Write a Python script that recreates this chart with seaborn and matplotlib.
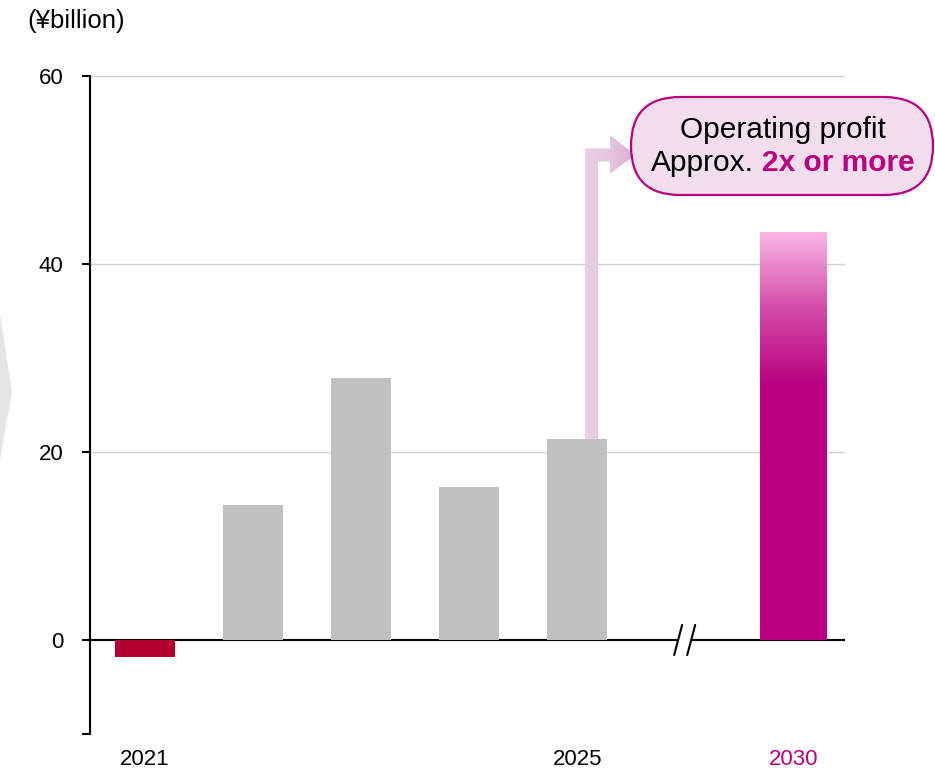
import numpy as np
import pandas as pd
import seaborn as sns
import matplotlib
matplotlib.use("Agg")
import matplotlib.pyplot as plt
from matplotlib.patches import Polygon, FancyBboxPatch
from matplotlib.colors import LinearSegmentedColormap
from matplotlib.transforms import Affine2D

# Operating profit (¥billion) by fiscal year
periods = ["FY2021", "FY2022", "FY2023", "FY2024", "FY2025"]
profits = [-1.8, 14.4, 27.9, 16.3, 21.4]
target_period = ["FY2030"]
target_profit = [43.4]
slot_order = ["FY2021", "FY2022", "FY2023", "FY2024", "FY2025", "break", "FY2030"]
tick_labels = ["2021", "", "", "", "2025", "", "2030"]
y_ticks = [-10, 0, 20, 40, 60]
y_tick_labels = ["", "0", "20", "40", "60"]

MAGENTA = "#B9007F"
PINK_TOP = "#F9B6E5"
bar_colors = {
    "FY2021": "#B4002E",
    "FY2022": "#C0C0C0",
    "FY2023": "#C0C0C0",
    "FY2024": "#C0C0C0",
    "FY2025": "#C0C0C0",
}

sns.set_style("white")
plt.rcParams["font.family"] = ["Liberation Sans", "DejaVu Sans"]

W, H = 935, 769
fig = plt.figure(figsize=(W / 100, H / 100), dpi=100)
ax = fig.add_axes([90 / W, 35 / H, 755 / W, (734 - 76) / H])

df = pd.DataFrame({"period": periods, "profit": profits})
sns.barplot(data=df, x="period", y="profit", hue="period", order=slot_order,
            palette=bar_colors, width=0.56, saturation=1, legend=False, ax=ax,
            linewidth=0, edgecolor="none", zorder=2)

# the 2030 target bar is a little wider
df_t = pd.DataFrame({"period": target_period, "profit": target_profit})
sns.barplot(data=df_t, x="period", y="profit", order=slot_order, color=MAGENTA,
            width=0.62, saturation=1, ax=ax, linewidth=0, edgecolor="none", zorder=2)

XLIM = (-0.51, 6.48)
YLIM = (-10, 60)

# gradient fill for the 2030 bar: solid magenta below ~27, fading to pink at the top
target = None
for p in ax.patches:
    if abs(p.get_x() + p.get_width() / 2 - 6) < 0.1:
        target = p
if target is not None:
    x0 = target.get_x()
    x1 = x0 + target.get_width()
    top = target.get_y() + target.get_height()
    grad_cmap = LinearSegmentedColormap.from_list("bar_grad", [MAGENTA, "#D44AA8", PINK_TOP])
    ys = np.linspace(0, top, 512)
    img = np.clip((ys - 27.0) / (top - 27.0), 0, 1).reshape(-1, 1)
    im = ax.imshow(img, extent=[x0, x1, 0, top], origin="lower", cmap=grad_cmap,
                   vmin=0, vmax=1, aspect="auto", zorder=3, interpolation="nearest")
    im.set_clip_path(target)

# gridlines and zero line
for g in [20, 40, 60]:
    ax.axhline(g, color="#D0D0D0", lw=1, zorder=0.5)
ax.axhline(0, color="black", lw=1.5, zorder=1)

# axis break marks between 2025 and 2030
ax.plot([4.935, 5.056], [0, 0], color="white", lw=4, zorder=1.2, solid_capstyle="butt")
for cx in [4.935, 5.056]:
    ax.plot([cx - 0.037, cx + 0.037], [-1.6, 1.6], color="black", lw=1.5, zorder=1.3)

# arrow from the 2025 bar up to the callout
arrow_pts = [(4.074, 21.4), (4.194, 21.4), (4.194, 50.9), (4.306, 50.9), (4.306, 49.6),
             (4.537, 51.6), (4.306, 53.7), (4.306, 52.3), (4.074, 52.3)]
arrow = Polygon(arrow_pts, closed=True, facecolor="none", edgecolor="none")
ax.add_patch(arrow)
arrow_cmap = LinearSegmentedColormap.from_list("arrow_grad", ["#E8CFE3", "#E4C6DF", "#D9ABD0"])
aimg = np.linspace(0, 1, 256).reshape(1, -1)
aim = ax.imshow(aimg, extent=[4.074, 4.537, 21.4, 53.7], origin="lower", cmap=arrow_cmap,
                aspect="auto", zorder=4, interpolation="nearest")
aim.set_clip_path(arrow)

ax.set_xlim(*XLIM)
ax.set_ylim(*YLIM)
ax.set_xlabel("")
ax.set_ylabel("")
ax.grid(False)

for side in ["top", "right", "bottom"]:
    ax.spines[side].set_visible(False)
ax.spines["left"].set_color("black")
ax.spines["left"].set_linewidth(1.5)

ax.set_yticks(y_ticks)
ax.set_yticklabels(y_tick_labels)
ax.tick_params(axis="y", direction="out", length=6, width=1.5, color="black",
               pad=13, labelsize=16, labelcolor="black", left=True)
ax.set_xticks(range(len(slot_order)))
ax.set_xticklabels(tick_labels)
ax.tick_params(axis="x", length=0, pad=11, labelsize=16, labelcolor="black")
ax.get_xticklabels()[6].set_color(MAGENTA)

# unit label
fig.text(27 / W, 1 - 21 / H, "(¥billion)", fontsize=18.5, ha="left", va="center",
         color="black")

# light chevron at the left edge
px = Affine2D().scale(1.0 / 100) + fig.dpi_scale_trans
chev = Polygon([(-30, H - 313), (0, H - 313), (12, H - 392), (0, H - 460), (-30, H - 460)],
               closed=True, facecolor="#E5E5E5", edgecolor="none", transform=px, zorder=0)
fig.patches.append(chev)

# callout pill
pill = FancyBboxPatch((631, H - 195), 302, 98, boxstyle="round,pad=0,rounding_size=49",
                      facecolor="#F1DDEC", edgecolor=MAGENTA, lw=1.6, transform=px, zorder=5)
fig.patches.append(pill)

fs = 21.5
fig.text(783 / W, (H - 130) / H, "Operating profit", fontsize=fs, ha="center",
         va="center", color="black", zorder=6)
t1 = fig.text(0, (H - 163) / H, "Approx.", fontsize=fs, ha="left", va="center",
              color="black", zorder=6)
t2 = fig.text(0, (H - 163) / H, "2x or more", fontsize=fs, ha="left", va="center",
              color=MAGENTA, fontweight="bold", zorder=6)
fig.canvas.draw()
r = fig.canvas.get_renderer()
w1 = t1.get_window_extent(r).width
w2 = t2.get_window_extent(r).width
gap = 0.278 * fs * 100 / 72
total = w1 + gap + w2
left = 782.5 - total / 2
t1.set_x(left / W)
t2.set_x((left + w1 + gap) / W)

fig.savefig("out.png", dpi=100)
